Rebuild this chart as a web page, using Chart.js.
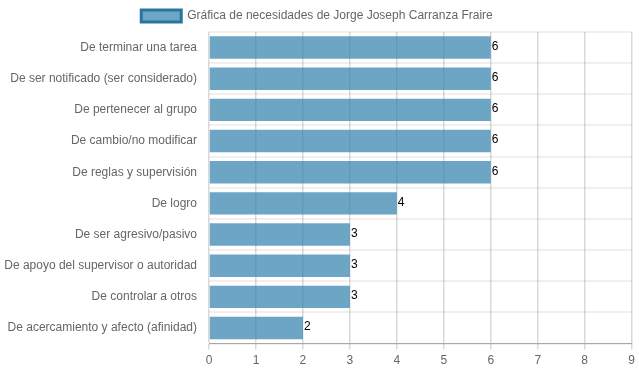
<!DOCTYPE html>
<html>
<head>
<meta charset="utf-8">
<script src="https://cdn.jsdelivr.net/npm/chart.js@4/dist/chart.umd.min.js"></script>
<style>
html,body{margin:0;padding:0;background:#fff;}
#wrap{width:639px;height:372px;position:relative;}
</style>
</head>
<body>
<div id="wrap"><canvas id="c"></canvas></div>
<script>
const categories = [
  "De terminar una tarea",
  "De ser notificado (ser considerado)",
  "De pertenecer al grupo",
  "De cambio/no modificar",
  "De reglas y supervisión",
  "De logro",
  "De ser agresivo/pasivo",
  "De apoyo del supervisor o autoridad",
  "De controlar a otros",
  "De acercamiento y afecto (afinidad)"
];
const values = [6, 6, 6, 6, 6, 4, 3, 3, 3, 2];
const seriesLabel = "Gráfica de necesidades de Jorge Joseph Carranza Fraire";
const xTicks = [0, 1, 2, 3, 4, 5, 6, 7, 8, 9];

Chart.defaults.font.family = "'Liberation Sans', Arial, sans-serif";
Chart.defaults.font.size = 12;
Chart.defaults.color = "#666";

const valueLabels = {
  id: 'valueLabels',
  afterDatasetsDraw(chart) {
    const ctx = chart.ctx;
    const meta = chart.getDatasetMeta(0);
    ctx.save();
    ctx.font = "12px 'Liberation Sans', Arial, sans-serif";
    ctx.fillStyle = "#000";
    ctx.textAlign = "left";
    ctx.textBaseline = "middle";
    meta.data.forEach((bar, i) => {
      ctx.fillText(String(values[i]), bar.x + 1, bar.y - 1);
    });
    ctx.restore();
  }
};

new Chart(document.getElementById('c'), {
  type: 'bar',
  data: {
    labels: categories,
    datasets: [{
      label: seriesLabel,
      data: values,
      backgroundColor: 'rgba(45,128,171,0.7)',
      borderColor: 'rgba(45,120,165,1)',
      borderWidth: 0
    }]
  },
  options: {
    indexAxis: 'y',
    responsive: true,
    maintainAspectRatio: false,
    animation: false,
    layout: { padding: { left: 0, right: 5, top: 0, bottom: 0 } },
    plugins: {
      legend: {
        position: 'top',
        labels: {
          boxWidth: 40,
          boxHeight: 12,
          padding: 10,
          color: '#666',
          generateLabels(chart) {
            return [{
              text: seriesLabel,
              fillStyle: 'rgba(45,128,171,0.7)',
              strokeStyle: 'rgba(40,118,160,1)',
              fontColor: '#666',
              lineWidth: 3,
              hidden: false,
              datasetIndex: 0
            }];
          }
        }
      },
      tooltip: { enabled: false }
    },
    scales: {
      x: {
        min: 0,
        max: 9,
        afterBuildTicks(axis) { axis.ticks = xTicks.map(v => ({ value: v })); },
        ticks: { stepSize: 1, color: '#666', padding: 4 },
        grid: { color: 'rgba(0,0,0,0.15)', lineWidth: 1.5, tickLength: 6 },
        border: { color: 'rgba(0,0,0,0.3)' }
      },
      y: {
        afterFit(axis) { axis.width = 209; },
        ticks: { color: '#666', padding: 12 },
        grid: { color: 'rgba(0,0,0,0.06)', lineWidth: 2, offset: true, drawTicks: false },
        border: { display: false }
      }
    }
  },
  plugins: [valueLabels]
});
</script>
</body>
</html>
